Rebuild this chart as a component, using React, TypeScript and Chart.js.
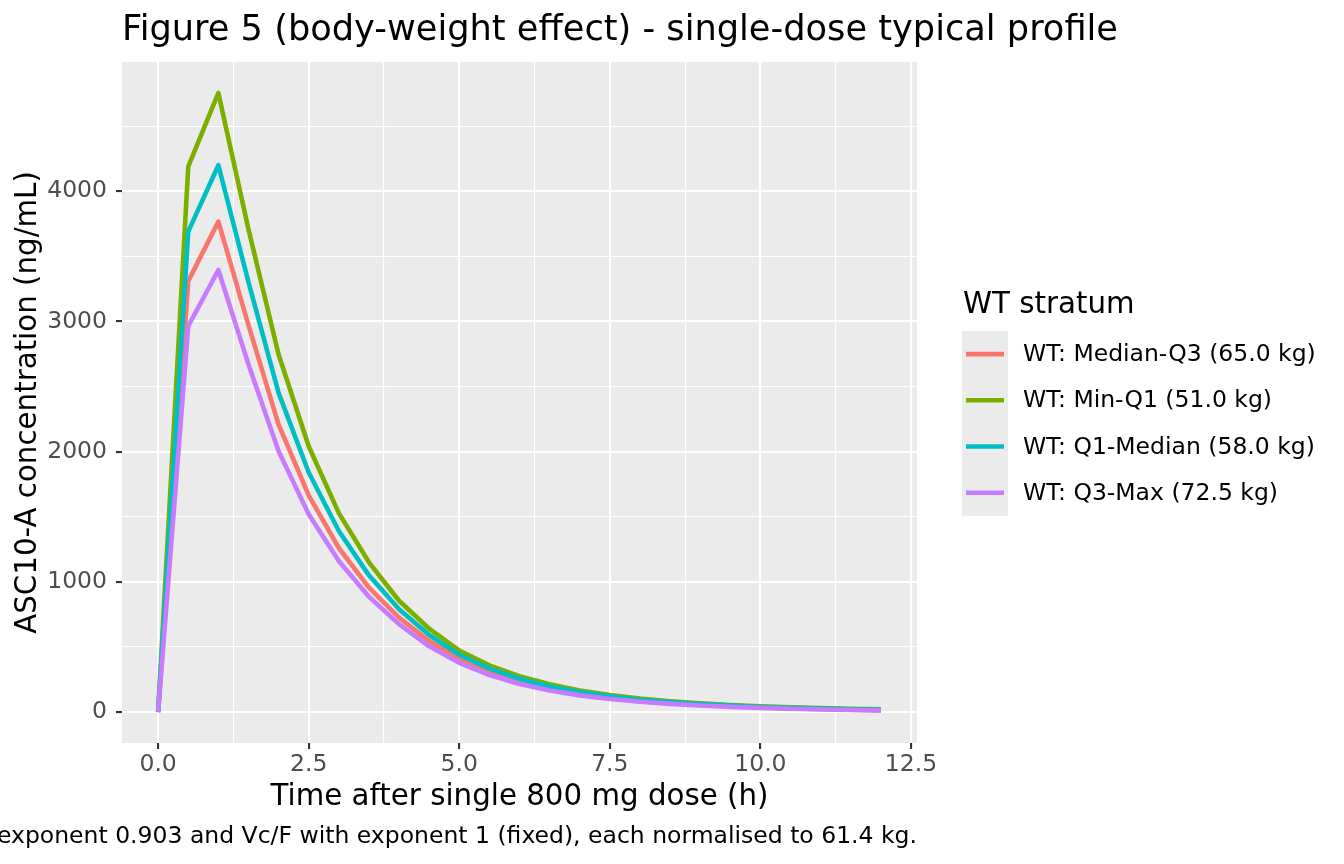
import { useEffect, useRef } from 'react';
import { Chart, registerables } from 'chart.js';

Chart.register(...registerables);

const FONT = "'DejaVu Sans', sans-serif";

// time grid (h) and typical concentrations (ng/mL) per WT stratum
const TIMES = [0, 0.5, 1, 1.5, 2, 2.5, 3, 3.5, 4, 4.5, 5, 5.5, 6, 6.5, 7, 7.5, 8, 8.5, 9, 9.5, 10, 10.5, 11, 11.5, 12];

const CONC_MEDIAN_Q3 = [0, 3310, 3767, 2972, 2208, 1665, 1260, 955, 725, 545, 408, 308, 235, 180, 140, 110, 87, 69, 55, 44, 35, 28, 23, 18, 15];
const CONC_MIN_Q1 = [0, 4190, 4755, 3708, 2746, 2041, 1528, 1150, 855, 640, 472, 358, 276, 213, 166, 131, 104, 83, 67, 54, 44, 36, 30, 25, 21];
const CONC_Q1_MEDIAN = [0, 3690, 4200, 3302, 2451, 1840, 1390, 1050, 790, 592, 440, 333, 256, 197, 153, 121, 95, 76, 61, 49, 39, 32, 26, 21, 17];
const CONC_Q3_MAX = [0, 2964, 3395, 2670, 2003, 1520, 1160, 885, 675, 505, 378, 284, 216, 166, 128, 100, 79, 63, 50, 40, 32, 25, 20, 16, 13];

const SERIES_NAMES = [
  'WT: Median-Q3 (65.0 kg)',
  'WT: Min-Q1 (51.0 kg)',
  'WT: Q1-Median (58.0 kg)',
  'WT: Q3-Max (72.5 kg)',
];
const SERIES_VALUES = [CONC_MEDIAN_Q3, CONC_MIN_Q1, CONC_Q1_MEDIAN, CONC_Q3_MAX];
const SERIES_COLORS = ['#F8766D', '#7CAE00', '#00BFC4', '#C77CFF'];

const X_TICKS = [0, 1.25, 2.5, 3.75, 5, 6.25, 7.5, 8.75, 10, 11.25, 12.5];
const X_MAJOR = [0, 2.5, 5, 7.5, 10, 12.5];
const Y_TICKS = [0, 500, 1000, 1500, 2000, 2500, 3000, 3500, 4000, 4500];
const Y_MAJOR = [0, 1000, 2000, 3000, 4000];

const TITLE = 'Figure 5 (body-weight effect) - single-dose typical profile';
const CAPTION = 'exponent 0.903 and Vc/F with exponent 1 (fixed), each normalised to 61.4 kg.';
const LEGEND_TITLE = 'WT stratum';

const LINE_WIDTH = 4.6;

const decorPlugin = {
  id: 'decor',
  beforeDraw(chart: Chart) {
    const { ctx, chartArea: a } = chart;
    ctx.save();
    ctx.fillStyle = '#FFFFFF';
    ctx.fillRect(0, 0, chart.width, chart.height);
    ctx.fillStyle = '#EBEBEB';
    ctx.fillRect(a.left, a.top, a.right - a.left, a.bottom - a.top);
    ctx.restore();
  },
  afterDraw(chart: Chart) {
    const { ctx, chartArea: a } = chart;
    ctx.save();
    ctx.fillStyle = '#000000';
    ctx.textBaseline = 'alphabetic';

    // title
    ctx.font = `35.2px ${FONT}`;
    ctx.textAlign = 'left';
    ctx.fillText(TITLE, a.left, 40);

    // caption, right aligned to panel
    ctx.font = `23.5px ${FONT}`;
    ctx.textAlign = 'right';
    ctx.fillText(CAPTION, a.right, 843);

    // legend
    const lx = a.right + 45;
    const keyTop = 331;
    const keySize = 46.2;
    ctx.textAlign = 'left';
    ctx.font = `29.3px ${FONT}`;
    ctx.fillText(LEGEND_TITLE, lx + 1, 313);
    ctx.fillStyle = '#EBEBEB';
    ctx.fillRect(lx, keyTop, 46, keySize * SERIES_NAMES.length);
    ctx.font = `23.5px ${FONT}`;
    ctx.textBaseline = 'middle';
    SERIES_NAMES.forEach((name, i) => {
      const cy = keyTop + keySize * (i + 0.5);
      ctx.strokeStyle = SERIES_COLORS[i];
      ctx.lineWidth = LINE_WIDTH;
      ctx.lineCap = 'butt';
      ctx.beginPath();
      ctx.moveTo(lx + 4, cy);
      ctx.lineTo(lx + 42, cy);
      ctx.stroke();
      ctx.fillStyle = '#000000';
      ctx.fillText(name, lx + 61, cy + 1);
    });
    ctx.restore();
  },
};

export default function App(): React.JSX.Element {
  const canvasRef = useRef<HTMLCanvasElement>(null);

  useEffect(() => {
    if (!canvasRef.current) return;

    const datasets = SERIES_NAMES.map((name, i) => ({
      label: name,
      data: TIMES.map((t, j) => ({ x: t, y: SERIES_VALUES[i][j] })),
      borderColor: SERIES_COLORS[i],
      backgroundColor: SERIES_COLORS[i],
      borderWidth: LINE_WIDTH,
      borderJoinStyle: 'round' as const,
      borderCapStyle: 'butt' as const,
      pointRadius: 0,
      tension: 0,
      fill: false,
      order: SERIES_NAMES.length - i,
    }));

    const yMax = Math.max(...CONC_MIN_Q1);

    const chart = new Chart(canvasRef.current, {
      type: 'line',
      data: { datasets },
      plugins: [decorPlugin],
      options: {
        animation: false,
        responsive: false,
        layout: { padding: { left: 0, right: 427, top: 62, bottom: 40 } },
        plugins: {
          legend: { display: false },
          title: { display: false },
          tooltip: { enabled: false },
        },
        scales: {
          x: {
            type: 'linear',
            min: -0.6,
            max: 12.6,
            afterBuildTicks: (scale) => {
              scale.ticks = X_TICKS.map((v) => ({ value: v }));
            },
            afterFit: (scale) => {
              scale.height = 81;
            },
            border: { display: false },
            grid: {
              color: '#FFFFFF',
              lineWidth: (ctx) => (X_MAJOR.includes(ctx.tick?.value) ? 2.1 : 1.1),
              tickColor: (ctx) => (X_MAJOR.includes(ctx.tick?.value) ? '#333333' : 'rgba(0,0,0,0)'),
              tickWidth: 2.1,
              tickLength: 6,
              drawTicks: true,
            },
            ticks: {
              autoSkip: false,
              maxRotation: 0,
              padding: 2,
              color: '#4D4D4D',
              font: { family: FONT, size: 23.5 },
              callback: (value) => (X_MAJOR.includes(Number(value)) ? Number(value).toFixed(1) : ''),
            },
            title: {
              display: true,
              text: 'Time after single 800 mg dose (h)',
              color: '#000000',
              font: { family: FONT, size: 29.3 },
              padding: { top: 0, bottom: 9 },
            },
          },
          y: {
            type: 'linear',
            min: -0.05 * yMax,
            max: 1.05 * yMax,
            afterBuildTicks: (scale) => {
              scale.ticks = Y_TICKS.map((v) => ({ value: v }));
            },
            afterFit: (scale) => {
              scale.width = 122;
            },
            border: { display: false },
            grid: {
              color: '#FFFFFF',
              lineWidth: (ctx) => (Y_MAJOR.includes(ctx.tick?.value) ? 2.1 : 1.1),
              tickColor: (ctx) => (Y_MAJOR.includes(ctx.tick?.value) ? '#333333' : 'rgba(0,0,0,0)'),
              tickWidth: 2.1,
              tickLength: 6,
              drawTicks: true,
            },
            ticks: {
              autoSkip: false,
              padding: 9,
              color: '#4D4D4D',
              font: { family: FONT, size: 23.5 },
              callback: (value) => (Y_MAJOR.includes(Number(value)) ? String(value) : ''),
            },
            title: {
              display: true,
              text: 'ASC10-A concentration (ng/mL)',
              color: '#000000',
              font: { family: FONT, size: 29.3 },
              padding: { top: 11, bottom: 0 },
            },
          },
        },
      },
    });

    return () => {
      chart.destroy();
    };
  }, []);

  return (
    <div style={{ position: 'absolute', left: 0, top: 0, width: 1344, height: 864, background: '#FFFFFF' }}>
      <canvas ref={canvasRef} width={1344} height={864} style={{ width: 1344, height: 864 }} />
    </div>
  );
}
